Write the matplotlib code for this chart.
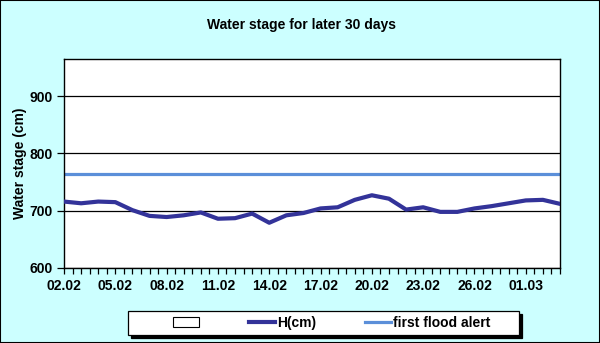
import matplotlib
matplotlib.use("Agg")
import matplotlib.pyplot as plt
from matplotlib.patches import Rectangle, Patch
from matplotlib.lines import Line2D
from matplotlib.ticker import MultipleLocator
import numpy as np
import pandas as pd

plt.rcParams['font.family'] = ['Liberation Sans', 'DejaVu Sans']

# Daily water stage readings (cm), 30 days starting 02.02
dates = pd.date_range("2023-02-02", periods=30, freq="D")
stage_cm = [716, 713, 716, 715, 701, 691, 689, 692, 697, 686,
            687, 695, 679, 692, 696, 704, 706, 719, 727, 721,
            702, 706, 698, 698, 704, 708, 713, 718, 719, 712]
first_alert_cm = 765
y_ticks = [600, 700, 800, 900]
y_max = 965

bg = "#CCFFFF"
h_color = "#333399"
alert_color = "#5B8FD9"
fs = 10

fig = plt.figure(figsize=(6.0, 3.43), dpi=100, facecolor=bg)
ax = fig.add_axes([0.1067, 0.2187, 0.8266, 0.6093])
ax.set_facecolor("white")

x = np.arange(len(dates))
ax.plot(x, stage_cm, color=h_color, lw=3.0, solid_joinstyle="round", zorder=3)
ax.axhline(first_alert_cm, color=alert_color, lw=2.3, zorder=2)

ax.set_xlim(0, len(dates) - 1)
ax.set_ylim(y_ticks[0], y_max)
ax.set_yticks(y_ticks)
ax.yaxis.grid(True, color="black", lw=0.9)
ax.set_axisbelow(True)

label_idx = x[::3]
ax.set_xticks(label_idx)
ax.set_xticklabels([d.strftime("%d.%m") for d in dates[::3]])
ax.xaxis.set_minor_locator(MultipleLocator(0.5))
ax.tick_params(axis="x", which="both", length=4, width=0.9, direction="out",
               color="black")
ax.tick_params(axis="x", which="major", pad=4)
ax.tick_params(axis="y", length=5, width=0.9, direction="out", pad=3)
for lbl in ax.get_xticklabels() + ax.get_yticklabels():
    lbl.set_fontweight("bold")
    lbl.set_fontsize(fs)

for s in ax.spines.values():
    s.set_color("black")
    s.set_linewidth(1.0)

ax.set_ylabel("Water stage (cm)", fontsize=fs, fontweight="bold", labelpad=2)
fig.text(0.502, 0.928, "Water stage for later 30 days", ha="center", va="center",
         fontsize=fs, fontweight="bold")

# Legend box with a solid drop shadow
box_x, box_y, box_w, box_h = 0.2133, 0.0233, 0.652, 0.070
sh_dx, sh_dy = 3 / 600, -3 / 343
fig.add_artist(Rectangle((box_x + sh_dx, box_y + sh_dy), box_w, box_h,
                         transform=fig.transFigure, facecolor="black",
                         edgecolor="black", lw=0.9, zorder=4))
fig.add_artist(Rectangle((box_x, box_y), box_w, box_h,
                         transform=fig.transFigure, facecolor="white",
                         edgecolor="black", lw=0.9, zorder=5))

handles = [Patch(facecolor="white", edgecolor="black", lw=0.8),
           Line2D([], [], color=h_color, lw=3.0),
           Line2D([], [], color=alert_color, lw=2.3)]
labels = ["", "H(cm)", "first flood alert"]
leg = fig.legend(handles, labels, ncol=3, loc="center",
                 bbox_to_anchor=(0.5525, box_y + box_h / 2),
                 frameon=False, handlelength=1.9, handletextpad=0.15,
                 columnspacing=3.45, borderpad=0.2,
                 prop={"weight": "bold", "size": fs})
leg.set_zorder(6)

fig.add_artist(Rectangle((0, 0), 1, 1, transform=fig.transFigure, fill=False,
                         edgecolor="black", lw=1.5))

fig.savefig("out.png", dpi=100, facecolor=bg)
